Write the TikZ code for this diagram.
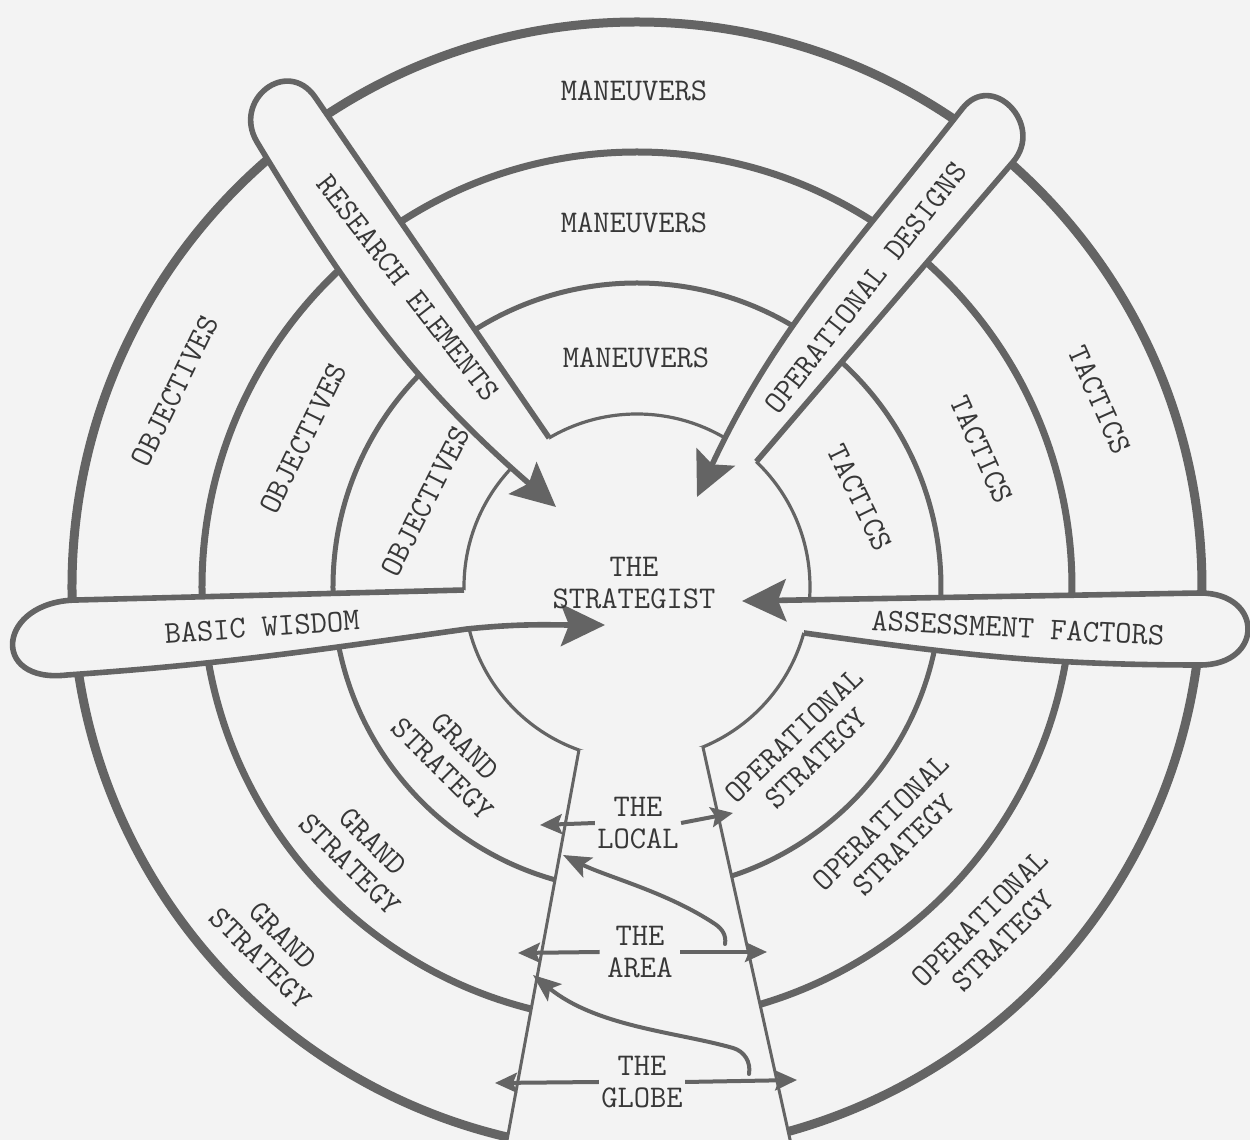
\documentclass[tikz,border=0pt]{standalone}
\usetikzlibrary{arrows.meta}
\definecolor{paper}{RGB}{243,243,243}
\definecolor{ink}{RGB}{100,100,100}
\definecolor{type}{RGB}{55,55,55}
\newcommand\tw{\fontsize{15.8}{16}\selectfont\ttfamily}
\begin{document}
\begin{tikzpicture}
[x=0.5pt,y=0.5pt,
 every node/.style={font=\tw,text=type,inner sep=1pt,align=center},
 ring/.style={draw=ink},
 cover/.style={fill=paper},
 balloon/.style={draw=ink,line width=2.8pt,line join=round},
 big/.style={-{Stealth[length=22pt,width=21pt,inset=4pt]}},
 chan/.style={draw=ink,line width=1.5pt},
 flow/.style={draw=ink,line width=2pt,-{Stealth[length=11pt,width=10pt,inset=2pt]}},
 hook/.style={draw=ink,line width=2pt,line cap=round,-{Stealth[length=14pt,width=11pt,inset=3pt]}},
 spot/.style={minimum width=40pt}]
\useasboundingbox (-637,-553) rectangle (613,587);
\fill[paper] (-637,-553) rectangle (613,587);
\clip (-637,-553) rectangle (613,587);

\draw[ring,line width=4.5pt] (0,0) circle[radius=565];
\draw[ring,line width=3.5pt] (0,0) circle[radius=435];
\draw[ring,line width=2.5pt] (0,0) circle[radius=304];
\draw[ring,line width=1.6pt] (0,0) circle[radius=173];

\coordinate (cl)  at (250.4:173);
\coordinate (cr)  at (292.4:173);
\coordinate (clb) at (-134,-575);
\coordinate (crb) at (158,-575);
\fill[cover] (cl) -- (cr) -- (crb) -- (clb) -- cycle;
\draw[chan] (cl) -- (clb);
\draw[chan] (cr) -- (crb);

\coordinate (re1) at (120.5:173);
\fill[cover] (re1) -- (-322,490) .. controls (-350,530) and (-405,487) .. (-380,445) to[out=-59,in=139] (-81,80) -- cycle;
\draw[balloon,big] (re1) -- (-322,490) .. controls (-350,530) and (-405,487) .. (-380,445) to[out=-59,in=139] (-81,80);

\coordinate (od1) at (46.4:173);
\fill[cover] (od1) -- (376,425) .. controls (408,462) and (355,517) .. (325,478) to[out=232,in=65] (60,90) -- cycle;
\draw[balloon,big] (od1) -- (376,425) .. controls (408,462) and (355,517) .. (325,478) to[out=232,in=65] (60,90);

\coordinate (bw1) at (181:173);
\fill[cover] (bw1) -- (-560,-13) .. controls (-640,-14) and (-648,-97) .. (-570,-88) to[out=4,in=188] (-170,-42) to[out=6,in=180] (-32,-38) -- cycle;
\draw[balloon,big] (bw1) -- (-560,-13) .. controls (-640,-14) and (-648,-97) .. (-570,-88) to[out=4,in=188] (-170,-42) to[out=6,in=180] (-32,-38);

\coordinate (af1) at (-15.4:173);
\fill[cover] (af1) to[out=-8,in=180] (563,-78) .. controls (627,-78) and (627,-6) .. (563,-6) -- (105,-14) -- cycle;
\draw[balloon,big] (af1) to[out=-8,in=180] (563,-78) .. controls (627,-78) and (627,-6) .. (563,-6) -- (105,-14);

\node (strat) at (-3,4) {THE\\STRATEGIST};
\node (man1) at (-3,496) {MANEUVERS};
\node (man2) at (-3,364) {MANEUVERS};
\node (man3) at (-1,229) {MANEUVERS};
\node[rotate=64] (obj1) at (157:502) {OBJECTIVES};
\node[rotate=64] (obj2) at (156:365) {OBJECTIVES};
\node[rotate=63] (obj3) at (158:228) {OBJECTIVES};
\node[rotate=-66] (tac1) at (22:499) {TACTICS};
\node[rotate=-66] (tac2) at (21.7:371) {TACTICS};
\node[rotate=-64] (tac3) at (21.8:240) {TACTICS};
\node[rotate=-45] (grd1) at (224.6:513) {GRAND\\STRATEGY};
\node[rotate=-45] (grd2) at (224:383) {GRAND\\STRATEGY};
\node[rotate=-45] (grd3) at (223:250) {GRAND\\STRATEGY};
\node[rotate=45] (ops1) at (-44:493) {OPERATIONAL\\STRATEGY};
\node[rotate=45] (ops2) at (-44:355) {OPERATIONAL\\STRATEGY};
\node[rotate=44] (ops3) at (-43.6:232) {OPERATIONAL\\STRATEGY};
\node[rotate=-52] (res) at (-229,299) {RESEARCH ELEMENTS};
\node[rotate=52] (des) at (229,299) {OPERATIONAL DESIGNS};
\node[rotate=4] (bas) at (-375,-40) {BASIC WISDOM};
\node[rotate=-3] (ass) at (381,-41) {ASSESSMENT FACTORS};
\node[spot] (local) at (1,-236) {THE\\LOCAL};
\node[spot] (area) at (3,-365) {THE\\AREA};
\node[spot] (globe) at (5,-495) {THE\\GLOBE};

\draw[flow] (local.west) -- (-97,-238);
\draw[flow] (local.east) -- (96,-226);
\draw[flow] (area.west) -- (-119,-366);
\draw[flow] (area.east) -- (130,-365);
\draw[flow] (globe.west) -- (-142,-496);
\draw[flow] (globe.east) -- (160,-493);
\draw[hook] (88,-357) to[out=80,in=-34] (78,-337) .. controls (30,-305) and (-30,-290) .. (-74,-268);
\draw[hook] (112,-487) to[out=80,in=-16] (96,-461) .. controls (40,-445) and (-40,-440) .. (-104,-388);
\end{tikzpicture}
\end{document}
